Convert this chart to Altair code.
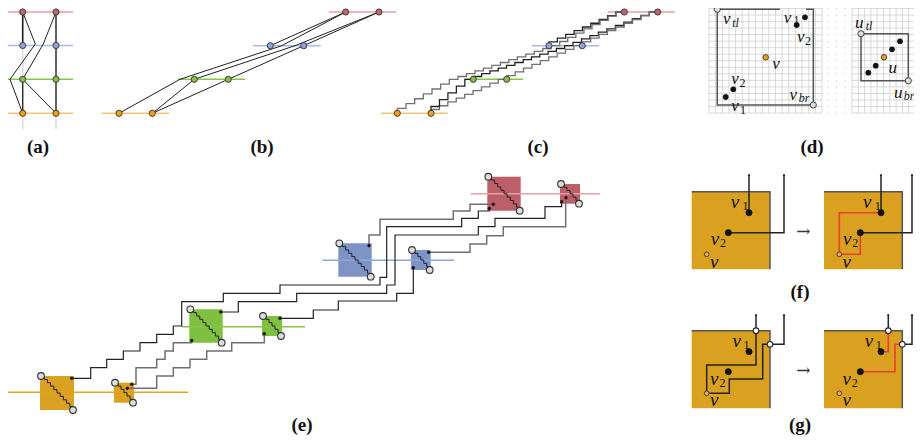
import altair as alt
import numpy as np
import pandas as pd

# ------------------------------------------------------------------ colours
ROW_NAMES = ["red", "blue", "green", "orange"]          # top to bottom
NODE_FILL = ["#c4636d", "#8ea4d8", "#80c242", "#f5a012"]
ROW_LINE = ["#e2a0a6", "#a9b9e4", "#86c64a", "#f2c872"]
BOX_FILL = ["#bd5f69", "#7f94c6", "#80c040", "#dba123"]
E_ROW_LINE = ["#e3a1a8", "#8fa3dc", "#86c64a", "#e3a21a"]
DARK, GREY, RED_PATH, GOLD = "#222222", "#707070", "#e8402a", "#daa020"

# ------------------------------------------------------------------ panel (a)
a_rows_y = [12, 45.5, 79.3, 113.3]
a_cols_x = [22.7, 56.0]
a_row_span = [6, 73]
a_col_span = [0, 129]
a_edges = [
    [(22.7, 12), (22.7, 45.5)],
    [(22.7, 12), (35.3, 44), (10, 79.3), (22.7, 113.3)],
    [(56, 12), (43.3, 44), (22.7, 79.3)],
    [(22.7, 79.3), (56, 113.3)],
    [(22.7, 79.3), (22.7, 113.3)],
    [(56, 12), (56, 113.3)],
]
a_edge_col = [DARK, DARK, DARK, DARK, DARK, "#555555"]
a_edge_w = [1.6, 1.0, 1.0, 1.0, 1.3, 1.8]

# ------------------------------------------------------------------ panel (b)
b_rows_y = [12, 45.7, 79.3, 113.3]
b_nodes_x = [[345.7, 379], [270.3, 303.7], [194.3, 228.3], [119, 152.3]]
b_spans = [[329, 396], [253, 320.7], [178, 245], [101.7, 169]]
b_routes = [
    [(345.7, 12), (270.3, 45.7)],
    [(345.7, 12), (281.7, 45.7), (180, 79.3), (119, 113.3)],
    [(379, 12), (295, 45.7), (194.3, 79.3)],
    [(379, 12), (303.7, 45.7), (228.3, 79.3), (152.3, 113.3)],
    [(194.3, 79.3), (152.3, 113.3)],
]

# ------------------------------------------------------------------ panel (c)
c_rows_y = [12, 45.7, 79.3, 113.3]
c_nodes_x = [[624.3, 657.7], [549, 582.3], [473.3, 506.7], [397.3, 431]]
c_spans = [[607.7, 675], [532, 599], [465, 523], [381, 447.7]]
c_routes = [  # corner points of the orthogonal routes, bottom to top
    [(549, 45.7), (624.3, 12)],
    [(397.3, 113.3), (458, 79.3), (559.7, 45.7), (624.3, 12)],
    [(473.3, 79.3), (573, 45.7), (657.7, 12)],
    [(431, 113.3), (506.7, 79.3), (582.3, 45.7), (657.7, 12)],
    [(431, 113.3), (473.3, 79.3)],
]
c_route_col = [DARK, GREY, DARK, GREY, DARK]

# ------------------------------------------------------------------ panel (d)
d_left_grid = [709, 822, 2, 113]     # x0, x1, y0, y1
d_left_cells = [17, 17]
d_right_grid = [852, 915, 2, 113]
d_right_cells = [10, 17]
d_gap_x = [828, 836.5, 845]
d_rect_left = [(780, 9.3), (717.3, 9.3), (717.3, 105), (813.3, 105), (813.3, 9.3), (806, 9.3)]
d_rect_right = [(861, 33.7), (908.3, 33.7), (908.3, 80.7), (861, 80.7), (861, 33.7)]
d_corner_pts = [(717.3, 9.3), (813.3, 105), (861, 33.7), (908.3, 80.7)]
d_black_pts = [(805, 17.3), (796.7, 25), (733.3, 89.3), (725.7, 97),
               (900, 41.3), (892, 49.3), (875.7, 65.7), (868.3, 72.7)]
d_orange_pts = [(765.7, 57.3), (884, 57.3)]
d_letters = [("v", 726.7, 19.3), ("v", 787.5, 17.5), ("v", 800.7, 37.3), ("v", 776, 64),
             ("v", 735, 79.3), ("v", 735, 106), ("v", 793.3, 95),
             ("u", 859.3, 22.7), ("u", 892.7, 68.3), ("u", 898.3, 92.7)]
d_subs_it = [("tl", 735.5, 22.5), ("br", 804, 98), ("tl", 869, 26), ("br", 909, 96)]
d_subs_num = [("1", 796.5, 19.5), ("2", 808, 41), ("2", 742.5, 82.5), ("1", 743, 109.5)]

# ------------------------------------------------------------------ panel (e)
e_rows_y = [193.7, 260.3, 326.7, 392.3]
e_spans = [[470.7, 600], [322.3, 454], [181.7, 305], [6, 188.3]]
e_boxes = [  # x0, y0, x1, y1 per row (big, small)
    [(487.3, 176.7, 520.7, 210.7), (560, 184, 580, 203.7)],
    [(338.3, 243.3, 371.7, 276.7), (411, 250, 430.7, 270)],
    [(189.3, 309.3, 222.7, 342.7), (262, 316, 282, 336)],
    [(40, 376, 74, 410), (114, 382.7, 134, 402.7)],
]
e_ports = [(71.7, 378.3), (131.7, 384.3), (127.3, 388.3), (220.7, 312), (191.7, 340.5),
           (280, 318.3), (264.3, 333.7), (369, 245.7), (428.7, 252.3), (413.3, 267.7),
           (493.3, 204.3), (489.3, 208.3), (566, 197.7), (561.7, 201.7)]
e_routes = [
    [(71.7, 378.3), (90.7, 378.3), (90.7, 367.7), (106.7, 367.7), (106.7, 359.3), (123.3, 359.3),
     (123.3, 351), (140, 351), (140, 342.7), (156.7, 342.7), (156.7, 334.3), (173.3, 334.3),
     (173.3, 326), (181.7, 326), (181.7, 301.7), (223.3, 301.7), (223.3, 293.3), (280, 293.3),
     (280, 285), (380, 285), (380, 277.3), (386.7, 277.3), (386.7, 226.7), (461.7, 226.7),
     (461.7, 218.3), (478.3, 218.3), (478.3, 211), (489.3, 211), (489.3, 208.3)],
    [(369, 245.7), (369, 235), (380, 235), (380, 219.3), (453.3, 219.3), (453.3, 211),
     (470, 211), (470, 204.3), (493.3, 204.3)],
    [(220.7, 312), (238.3, 312), (238.3, 301.7), (296.7, 301.7), (296.7, 293.3), (386.7, 293.3),
     (386.7, 285), (395, 285), (395, 235), (478.3, 235), (478.3, 226.7), (495, 226.7),
     (495, 218.3), (545, 218.3), (545, 206.7), (561.7, 206.7), (561.7, 201.7)],
    [(428.7, 252.3), (470, 252.3), (470, 244), (486.7, 244), (486.7, 235.7), (503.3, 235.7),
     (503.3, 226.7), (565.7, 226.7), (565.7, 197.7)],
    [(280, 318.3), (313.3, 318.3), (313.3, 310), (338.3, 310), (338.3, 301), (396.7, 301),
     (396.7, 293.3), (413.3, 293.3), (413.3, 267.7)],
    [(131.7, 384.3), (136, 384.3), (136, 367.7), (156.7, 367.7), (156.7, 359.3), (165, 359.3),
     (165, 351), (173.3, 351), (173.3, 342.7), (191.7, 342.7), (191.7, 340.5)],
    [(127.3, 388.3), (156.7, 388.3), (156.7, 376), (173.3, 376), (173.3, 367.7), (190, 367.7),
     (190, 359.3), (206.7, 359.3), (206.7, 351), (231.7, 351), (231.7, 342.7), (264.3, 342.7),
     (264.3, 333.7)],
]
e_route_col = [DARK, GREY, DARK, GREY, DARK, GREY, GREY]

# ------------------------------------------------------------------ panels (f), (g)
fg_boxes = [(691.7, 191.7, 770, 269.3), (824, 191.7, 902.3, 269.3),
            (691.7, 330.7, 770, 408.3), (824, 330.7, 902.3, 408.3)]
f_black = [
    [(749, 175), (749, 212.7)], [(728.3, 232.7), (784, 232.7), (784, 175)],
    [(881, 175), (881, 212.7)], [(860.3, 232.7), (912, 232.7), (912, 175)],
    [(756, 315), (756, 365), (706.7, 365), (706.7, 393.3)],
    [(784, 315), (784, 344.3), (762.7, 344.3), (762.7, 379), (729.3, 379), (729.3, 393.3), (706.7, 393.3)],
    [(888.3, 315), (888.3, 330.7)], [(902.3, 344.3), (912, 344.3), (912, 315)],
]
f_red = [
    [(881, 212.7), (839.3, 212.7), (839.3, 254.3), (860.3, 254.3), (860.3, 232.7)],
    [(881, 351.7), (888.3, 351.7), (888.3, 330.7)],
    [(860.3, 371.7), (895, 371.7), (895, 344.3), (902.3, 344.3)],
]
fg_black_pts = [(749, 212.7), (728.3, 232.7), (881, 212.7), (860.3, 232.7),
                (749, 351.7), (728.3, 371.7), (881, 351.7), (860.3, 371.7)]
fg_orange_pts = [(706.7, 254.3), (839.3, 254.3), (706.7, 393.3), (839.3, 393.3)]
fg_white_pts = [(756, 330.7), (770, 344.3), (888.3, 330.7), (902.3, 344.3)]
fg_tiny_pts = [(749, 175), (784, 175), (881, 175), (912, 175),
               (756, 315), (784, 315), (888.3, 315), (912, 315)]
fg_letters = [(735, 201.7), (715, 239.3), (714.3, 261.7), (867.3, 201.7), (847.3, 239.3), (846.7, 261.7),
              (736.7, 341), (714.3, 379.3), (714.3, 400), (869, 341), (846.7, 379.3), (846.7, 400)]
fg_subs = [("1", 745.5, 205.5), ("2", 723, 242.5), ("1", 877.8, 205.5), ("2", 855.3, 242.5),
           ("1", 746.5, 344.5), ("2", 722.5, 382.5), ("1", 878.8, 344.5), ("2", 854.8, 382.5)]
fg_arrows = [(803.3, 232), (803.3, 371)]

# ------------------------------------------------------------------ panel labels
labels = ["(a)", "(b)", "(c)", "(d)", "(e)", "(f)", "(g)"]
labels_x = [38, 262, 538, 812, 302, 800, 800]
labels_y = [147, 147, 147, 147, 424.5, 292, 424.5]


# ================================================================== build tables
def stairs(pts, step, first="v"):
    out = [pts[0]]
    for (x0, y0), (x1, y1) in zip(pts[:-1], pts[1:]):
        n = max(1, int(round(abs(x1 - x0) / step)))
        xs = np.linspace(x0, x1, n + 1)
        ys = np.linspace(y0, y1, n + 1)
        for i in range(n):
            if first == "v":
                out += [(xs[i], ys[i + 1]), (xs[i + 1], ys[i + 1])]
            else:
                out += [(xs[i + 1], ys[i]), (xs[i + 1], ys[i + 1])]
    return out


line_rows = []


def add_line(pts, color, width):
    g = line_rows[-1]["g"] + 1 if line_rows else 0
    for i, (x, y) in enumerate(pts):
        line_rows.append(dict(x=float(x), y=float(y), o=i, g=g, c=color, w=width))


rect_rows = []
rule_rows = []
pt_rows = []


def add_pt(x, y, fill, stroke, size, sw):
    pt_rows.append(dict(x=x, y=y, f=fill, s=stroke, sz=size, sw=sw))


# (a)
for cx in a_cols_x:
    add_line([(cx, a_col_span[0]), (cx, a_col_span[1])], "#dddddd", 1.6)
for k, y in enumerate(a_rows_y):
    add_line([(a_row_span[0], y), (a_row_span[1], y)], ROW_LINE[k], 1.6)
for pts, c, w in zip(a_edges, a_edge_col, a_edge_w):
    add_line(pts, c, w)
for k, y in enumerate(a_rows_y):
    for cx in a_cols_x:
        add_pt(cx, y, NODE_FILL[k], "#333333", 38, 0.9)

# (b) and (c)
for rows_y, nodes, spans in [(b_rows_y, b_nodes_x, b_spans), (c_rows_y, c_nodes_x, c_spans)]:
    for k, y in enumerate(rows_y):
        add_line([(spans[k][0], y), (spans[k][1], y)], ROW_LINE[k], 1.6)
for pts in b_routes:
    add_line(pts, DARK, 1.0)
for pts, c in zip(c_routes, c_route_col):
    add_line(stairs(pts, 8.3, "v"), c, 1.3)
for rows_y, nodes in [(b_rows_y, b_nodes_x), (c_rows_y, c_nodes_x)]:
    for k, y in enumerate(rows_y):
        for nx in nodes[k]:
            add_pt(nx, y, NODE_FILL[k], "#333333", 38, 0.9)

# (d) grid
for (x0, x1, y0, y1), (nx, ny) in [(d_left_grid, d_left_cells), (d_right_grid, d_right_cells)]:
    for gx in np.linspace(x0, x1, nx + 1):
        rule_rows.append(dict(x=gx, x2=gx, y=y0, y2=y1, c="#cfcfcf", w=0.8))
    for gy in np.linspace(y0, y1, ny + 1):
        rule_rows.append(dict(x=x0, x2=x1, y=gy, y2=gy, c="#cfcfcf", w=0.8))
for gx in d_gap_x:
    for gy in np.linspace(d_left_grid[2], d_left_grid[3], d_left_cells[1] + 1):
        add_pt(gx, gy, "#c8c8c8", "#c8c8c8", 1.5, 0)
add_line(d_rect_left, "#555555", 1.5)
add_line(d_rect_right, "#555555", 1.5)
for x, y in d_corner_pts:
    add_pt(x, y, "#dddddd", "#444444", 38, 1.0)
for x, y in d_black_pts:
    add_pt(x, y, "#111111", "#111111", 28, 0.5)
for x, y in d_orange_pts:
    add_pt(x, y, "#f5a012", "#333333", 30, 0.9)

# (e)
for k, y in enumerate(e_rows_y):
    add_line([(e_spans[k][0], y), (e_spans[k][1], y)], E_ROW_LINE[k], 1.4)
for k, row in enumerate(e_boxes):
    for (x0, y0, x1, y1) in row:
        rect_rows.append(dict(x=x0, x2=x1, y=y0, y2=y1, c=BOX_FILL[k]))
for pts, c in zip(e_routes, e_route_col):
    add_line(pts, c, 1.5 if c == GREY else 1.2)
for row in e_boxes:
    for (x0, y0, x1, y1) in row:
        add_line(stairs([(x0 + 1, y0), (x1 - 1, y1)], 3.2, "h"), DARK, 1.0)
        add_pt(x0 + 1, y0, "#dddddd", "#333333", 45, 1.1)
        add_pt(x1 - 1, y1, "#dddddd", "#333333", 45, 1.1)
for x, y in e_ports:
    add_pt(x, y, "#111111", "#111111", 8, 0.5)

# (f), (g)
for (x0, y0, x1, y1) in fg_boxes:
    rect_rows.append(dict(x=x0, x2=x1, y=y0, y2=y1, c=GOLD))
    add_line([(x0, y0), (x1, y0), (x1, y1)], "#555555", 1.5)
for pts in f_black:
    add_line(pts, DARK, 1.5)
for pts in f_red:
    add_line(pts, RED_PATH, 1.6)
for x, y in fg_black_pts:
    add_pt(x, y, "#111111", "#111111", 40, 0.5)
for x, y in fg_orange_pts:
    add_pt(x, y, "#f5b041", "#333333", 22, 0.9)
for x, y in fg_white_pts:
    add_pt(x, y, "#ffffff", "#222222", 32, 1.1)
for x, y in fg_tiny_pts:
    add_pt(x, y, "#111111", "#111111", 3, 0.3)

lines_df = pd.DataFrame(line_rows)
rects_df = pd.DataFrame(rect_rows)
rules_df = pd.DataFrame(rule_rows)
pts_df = pd.DataFrame(pt_rows)

letters_df = pd.DataFrame(
    [dict(t=t, x=x, y=y, fs=17) for t, x, y in d_letters]
    + [dict(t="v", x=x, y=y, fs=19) for x, y in fg_letters]
    + [dict(t=t, x=x, y=y, fs=12) for t, x, y in d_subs_it])
nums_df = pd.DataFrame([dict(t=t, x=x, y=y, fs=12) for t, x, y in d_subs_num + fg_subs])
labels_df = pd.DataFrame(dict(t=labels, x=labels_x, y=labels_y))
arrows_df = pd.DataFrame([dict(t="\u2192", x=x, y=y) for x, y in fg_arrows])

# ================================================================== chart
XS = alt.Scale(domain=[8, 914], nice=False, zero=False)
YS = alt.Scale(domain=[8, 435], nice=False, zero=False, reverse=True)


def X(f="x"):
    return alt.X(f"{f}:Q", scale=XS, axis=None)


def Y(f="y"):
    return alt.Y(f"{f}:Q", scale=YS, axis=None)


rules = alt.Chart(rules_df).mark_rule().encode(
    x=X(), x2="x2:Q", y=Y(), y2="y2:Q",
    color=alt.Color("c:N", scale=None), strokeWidth=alt.StrokeWidth("w:Q", scale=None))

rects = alt.Chart(rects_df).mark_rect().encode(
    x=X(), x2="x2:Q", y=Y(), y2="y2:Q", color=alt.Color("c:N", scale=None))

lines = alt.Chart(lines_df).mark_line(strokeJoin="miter", strokeCap="butt").encode(
    x=X(), y=Y(), detail="g:N", order="o:Q",
    color=alt.Color("c:N", scale=None), strokeWidth=alt.StrokeWidth("w:Q", scale=None))

points = alt.Chart(pts_df).mark_point(shape="circle", filled=True, opacity=1).encode(
    x=X(), y=Y(),
    fill=alt.Fill("f:N", scale=None), stroke=alt.Stroke("s:N", scale=None),
    size=alt.Size("sz:Q", scale=None), strokeWidth=alt.StrokeWidth("sw:Q", scale=None))

letters = alt.Chart(letters_df).mark_text(
    font="Liberation Serif", fontStyle="italic", align="center", baseline="middle", color="#111111"
).encode(x=X(), y=Y(), text="t:N", size=alt.Size("fs:Q", scale=None))

nums = alt.Chart(nums_df).mark_text(
    font="Liberation Serif", align="center", baseline="middle", color="#111111"
).encode(x=X(), y=Y(), text="t:N", size=alt.Size("fs:Q", scale=None))

panel_labels = alt.Chart(labels_df).mark_text(
    font="Liberation Serif", fontWeight="bold", fontSize=19, align="center", baseline="middle",
    color="#111111"
).encode(x=X(), y=Y(), text="t:N")

arrows = alt.Chart(arrows_df).mark_text(
    font="DejaVu Serif", fontSize=17, align="center", baseline="middle", color="#333333"
).encode(x=X(), y=Y(), text="t:N")

chart = alt.layer(rules, rects, lines, points, letters, nums, panel_labels, arrows).properties(
    width=906, height=427, padding=0, autosize=alt.AutoSizeParams(type="none")
).configure_view(stroke=None)

chart.save("out.html", embed_options={"renderer": "svg", "actions": False})
